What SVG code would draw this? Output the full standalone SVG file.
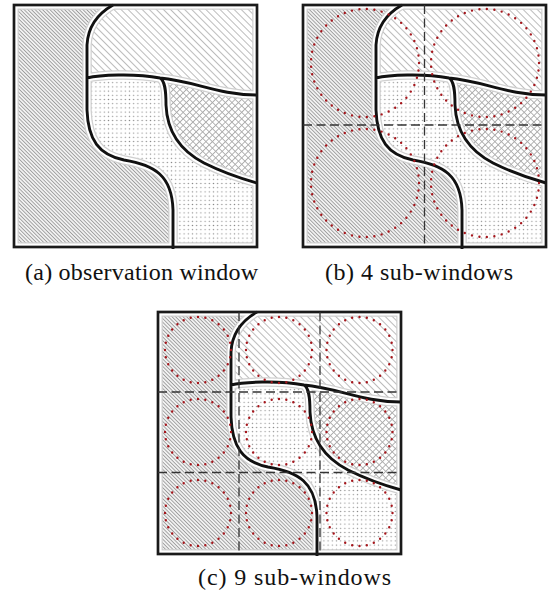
<svg xmlns="http://www.w3.org/2000/svg" xmlns:xlink="http://www.w3.org/1999/xlink" width="548" height="599" viewBox="0 0 548 599">
<style>
.halo{fill:none;stroke:#d0d0d0;stroke-width:9.5;stroke-linejoin:round}
.gap{fill:none;stroke:#fff;stroke-width:7;stroke-linejoin:round}
.curve{fill:none;stroke:#111;stroke-width:2.9;stroke-linejoin:round}
.frame{fill:none;stroke:#1a1a1a;stroke-width:2.7}
.dash{fill:none;stroke:#333;stroke-width:1.3;stroke-dasharray:9 4.5}
.circ{fill:none;stroke:#a5161c;stroke-width:2.4;stroke-linecap:round;stroke-dasharray:0 1}
.cap{font-family:"Liberation Serif","Times New Roman",serif;font-size:24px;fill:#111}
</style>
<defs>
<pattern id="pDense" width="2.6" height="2.6" patternUnits="userSpaceOnUse" patternTransform="rotate(45)">
<rect width="2.6" height="2.6" fill="#fff"/><line x1="0" y1="1.3" x2="2.6" y2="1.3" stroke="#9c9c9c" stroke-width="1.1"/>
</pattern>
<pattern id="pSparse" width="5" height="5" patternUnits="userSpaceOnUse" patternTransform="rotate(45)">
<rect width="5" height="5" fill="#fff"/><line x1="0" y1="2.5" x2="5" y2="2.5" stroke="#b4b4b4" stroke-width="0.9"/>
</pattern>
<pattern id="pCross" width="4.6" height="4.6" patternUnits="userSpaceOnUse" patternTransform="rotate(45)">
<rect width="4.6" height="4.6" fill="#fff"/><line x1="0" y1="2.3" x2="4.6" y2="2.3" stroke="#acacac" stroke-width="0.9"/><line x1="2.3" y1="0" x2="2.3" y2="4.6" stroke="#acacac" stroke-width="0.9"/>
</pattern>
<pattern id="pDots" width="4.2" height="4.2" patternUnits="userSpaceOnUse">
<rect width="4.2" height="4.2" fill="#fff"/><circle cx="2.1" cy="2.1" r="0.7" fill="#8a8a8a"/>
</pattern>
<clipPath id="clipF"><rect width="243" height="242"/></clipPath>
<path id="curves" d="M99,0 C85,8 74,20 73,40 L73,105 C74,135 85,150 110,155 C140,160 158,170 159,205 L159,244 M73,73 C85,70 120,68 146,73 C180,76 205,90 243,90 M146,73 C151,76 152,85 152,100 C153,125 165,145 190,158 C210,168 225,173 243,178"/>
<rect id="box" width="243" height="242"/>
<g id="panel">
<rect width="243" height="242" fill="url(#pDots)"/>
<path fill="url(#pDense)" d="M0,0 L99,0 C85,8 74,20 73,40 L73,105 C74,135 85,150 110,155 C140,160 158,170 159,205 L159,242 L0,242 Z"/>
<path fill="url(#pSparse)" d="M99,0 L243,0 L243,90 C205,90 180,76 146,73 C120,68 85,70 73,73 L73,40 C74,20 85,8 99,0 Z"/>
<path fill="url(#pCross)" d="M146,73 C180,76 205,90 243,90 L243,178 C225,173 210,168 190,158 C165,145 153,125 152,100 C152,85 151,76 146,73 Z"/>
<g clip-path="url(#clipF)">
<use xlink:href="#curves" class="halo"/>
<use xlink:href="#box" class="halo"/>
<use xlink:href="#curves" class="gap"/>
<use xlink:href="#box" class="gap"/>
</g>
<use xlink:href="#curves" class="curve"/>
<use xlink:href="#box" class="frame"/>
</g>
</defs>

<g id="panel-a" transform="translate(14,5)">
<use xlink:href="#panel"/>
</g>

<g id="panel-b" transform="translate(303,5)">
<use xlink:href="#panel"/>
<g id="dashes-b">
<line class="dash" x1="121.5" y1="0" x2="121.5" y2="242"/>
<line class="dash" x1="0" y1="120" x2="243" y2="120"/>
</g>
<g id="circles-b">
<circle class="circ" cx="62" cy="58" r="54" pathLength="45"/>
<circle class="circ" cx="182" cy="58" r="54" pathLength="45"/>
<circle class="circ" cx="62" cy="178" r="54" pathLength="45"/>
<circle class="circ" cx="182" cy="178" r="54" pathLength="45"/>
</g>
</g>

<g id="panel-c" transform="translate(158,312)">
<use xlink:href="#panel"/>
<g id="dashes-c">
<line class="dash" x1="81" y1="0" x2="81" y2="242"/>
<line class="dash" x1="162" y1="0" x2="162" y2="242"/>
<line class="dash" x1="0" y1="80" x2="243" y2="80"/>
<line class="dash" x1="0" y1="160.5" x2="243" y2="160.5"/>
</g>
<g id="circles-c">
<circle class="circ" cx="40" cy="38" r="33" pathLength="28"/>
<circle class="circ" cx="121" cy="38" r="33" pathLength="28"/>
<circle class="circ" cx="201.5" cy="38" r="33" pathLength="28"/>
<circle class="circ" cx="40" cy="120" r="33" pathLength="28"/>
<circle class="circ" cx="121" cy="120" r="33" pathLength="28"/>
<circle class="circ" cx="201.5" cy="120" r="33" pathLength="28"/>
<circle class="circ" cx="40" cy="201" r="33" pathLength="28"/>
<circle class="circ" cx="121" cy="201" r="33" pathLength="28"/>
<circle class="circ" cx="201.5" cy="201" r="33" pathLength="28"/>
</g>
</g>

<g id="captions">
<text class="cap" x="25" y="280" textLength="233">(a) observation window</text>
<text class="cap" x="325" y="280" textLength="188">(b) 4 sub-windows</text>
<text class="cap" x="198" y="585" textLength="193">(c) 9 sub-windows</text>
</g>
</svg>
